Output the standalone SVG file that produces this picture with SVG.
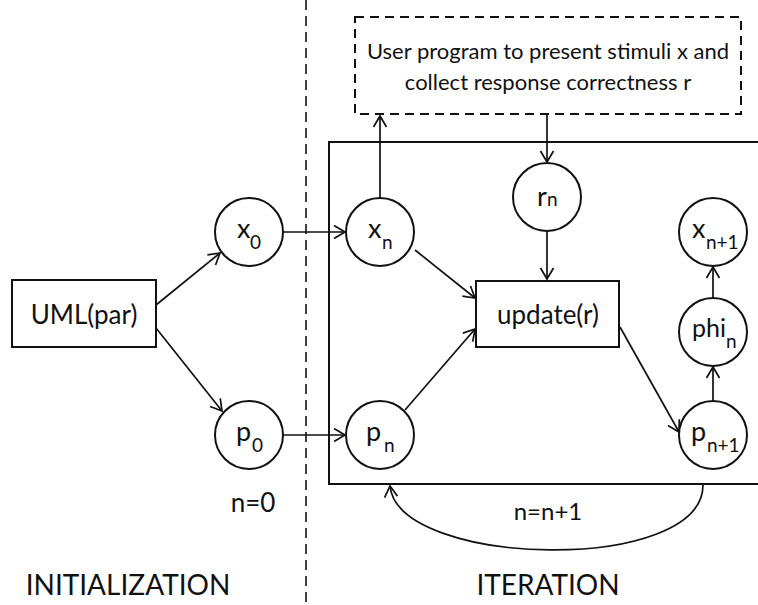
<svg xmlns="http://www.w3.org/2000/svg" width="758" height="605" viewBox="0 0 758 605">
<defs>
<marker id="arr" markerUnits="userSpaceOnUse" markerWidth="16" markerHeight="16" viewBox="-1 -8 14 16" refX="11" refY="0" orient="auto">
<path d="M0,-6.5 L11,0 L0,6.5" fill="none" stroke="#111" stroke-width="1.7"/>
</marker>
<style>
text{font-family:Lato,"Liberation Sans",sans-serif;fill:#111}
.node{fill:#fff;stroke:#111;stroke-width:2}
.c{fill:none;stroke:#111;stroke-width:1.7;marker-end:url(#arr)}
.m{font-size:27px}
.s{font-size:19px}
.lbl{font-size:26px;text-anchor:middle}
.big{font-size:28px;text-anchor:middle}
</style>
</defs>
<rect width="758" height="605" fill="#fff"/>

<g id="separator">
<line x1="306" y1="0" x2="306" y2="605" stroke="#111" stroke-width="1.6" stroke-dasharray="10,6"/>
</g>

<g id="iteration-frame">
<rect x="329" y="142" width="440" height="342" fill="none" stroke="#111" stroke-width="2"/>
</g>

<g id="user-program">
<rect x="355" y="17" width="386" height="97" fill="#fff" stroke="#111" stroke-width="2" stroke-dasharray="9,6"/>
<text x="548" y="59" style="font-size:22px;text-anchor:middle">User program to present stimuli x and</text>
<text x="548" y="90" style="font-size:22px;text-anchor:middle">collect response correctness r</text>
</g>

<g id="uml">
<rect class="node" x="12" y="280" width="144" height="67"/>
<text class="lbl" x="84" y="324">UML(par)</text>
</g>

<g id="x0">
<circle class="node" cx="249" cy="232" r="34"/>
<text class="m" x="237" y="238">x</text><text class="s" x="250" y="249">0</text>
</g>
<g id="p0">
<circle class="node" cx="249" cy="435" r="34"/>
<text class="m" x="236" y="441">p</text><text class="s" x="252" y="452">0</text>
</g>
<g id="xn">
<circle class="node" cx="380" cy="232" r="34"/>
<text class="m" x="368" y="238">x</text><text class="s" x="382" y="249">n</text>
</g>
<g id="pn">
<circle class="node" cx="380" cy="435" r="34"/>
<text class="m" x="366" y="441">p</text><text class="s" x="384" y="452">n</text>
</g>
<g id="rn">
<circle class="node" cx="547" cy="197" r="34"/>
<text class="m" x="537" y="206">r</text><text class="s" x="547" y="206">n</text>
</g>
<g id="update">
<rect class="node" x="476" y="281" width="143" height="66"/>
<text class="lbl" x="548" y="324">update(r)</text>
</g>
<g id="xn1">
<circle class="node" cx="713" cy="232" r="34"/>
<text class="m" x="692" y="238">x</text><text class="s" x="706" y="249">n+1</text>
</g>
<g id="phin">
<circle class="node" cx="713" cy="332" r="34"/>
<text class="m" x="692" y="337" style="font-size:25px">phi</text><text class="s" x="726" y="348">n</text>
</g>
<g id="pn1">
<circle class="node" cx="713" cy="435" r="34"/>
<text class="m" x="691" y="441">p</text><text class="s" x="707" y="452">n+1</text>
</g>

<g id="connectors">
<line class="c" x1="156" y1="305" x2="220" y2="253"/>
<line class="c" x1="156" y1="328" x2="222" y2="411"/>
<line class="c" x1="283" y1="232" x2="345" y2="232"/>
<line class="c" x1="283" y1="435" x2="345" y2="435"/>
<line class="c" x1="380" y1="198" x2="380" y2="116"/>
<line class="c" x1="547" y1="114" x2="547" y2="162"/>
<line class="c" x1="547" y1="231" x2="547" y2="279"/>
<line class="c" x1="415" y1="250" x2="475" y2="298"/>
<line class="c" x1="405" y1="410" x2="475" y2="329"/>
<line class="c" x1="620" y1="327" x2="679" y2="432"/>
<line class="c" x1="713" y1="401" x2="713" y2="367"/>
<line class="c" x1="713" y1="298" x2="713" y2="267"/>
<path class="c" d="M703,484 C705,575 398,568 390,486"/>
</g>

<g id="labels">
<text x="548" y="520" style="font-size:24px;text-anchor:middle">n=n+1</text>
<text class="lbl" x="253" y="512">n=0</text>
<text class="big" x="128" y="595">INITIALIZATION</text>
<text class="big" x="548" y="595">ITERATION</text>
</g>
</svg>
